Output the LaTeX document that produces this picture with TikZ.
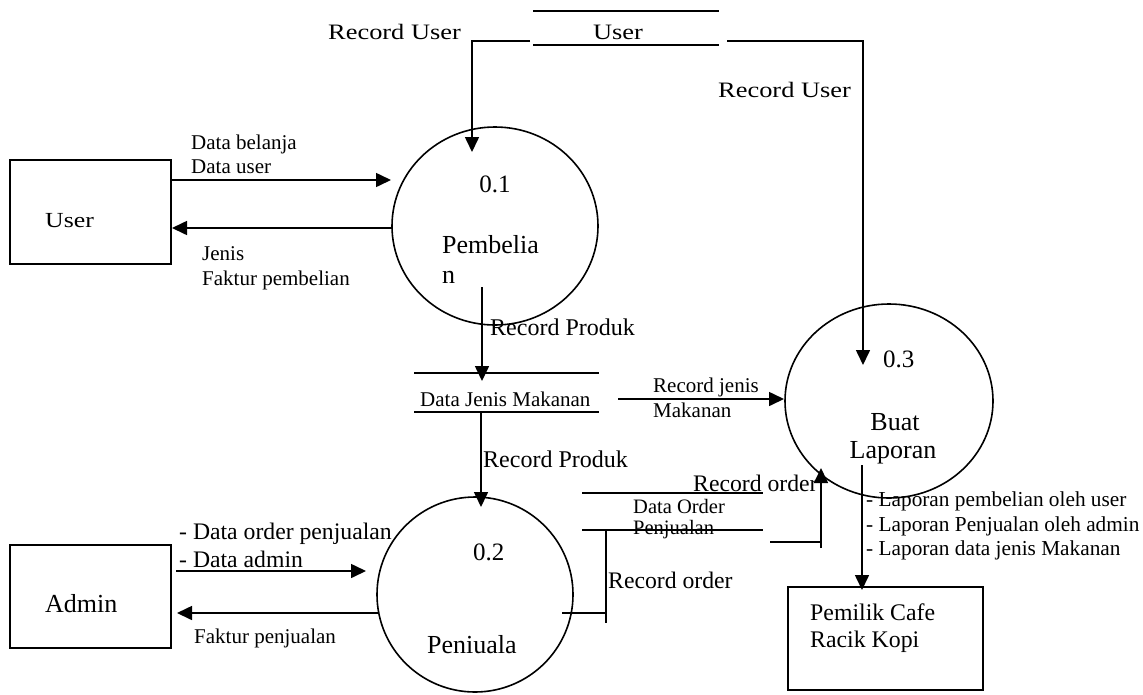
\documentclass[tikz,border=0pt]{standalone}
\usepackage{fontspec}
\setmainfont{Liberation Serif}
\newfontfamily\widefont[FakeStretch=1.2]{Liberation Serif}
\usetikzlibrary{arrows.meta,shapes.geometric}
\newcommand{\fsz}[1]{\fontsize{#1}{#1}\selectfont}
\begin{document}
\begin{tikzpicture}[x=1pt,y=-1pt,
  ln/.style={line width=1.6pt},
  arr/.style={line width=1.6pt,-{Triangle[length=15pt,width=14pt]}},
  lbl/.style={inner sep=0,anchor=base west},
  lblc/.style={inner sep=0,anchor=base},
  proc/.style={draw,ellipse,line width=1.6pt,inner sep=0},
  ent/.style={draw,rectangle,line width=1.6pt,inner sep=0}]
\useasboundingbox (0,0) rectangle (1143,694);

% external entities
\node[ent,minimum width=161pt,minimum height=104pt] (user) at (90.5,212) {};
\node[lbl] (usertxt) at (45,227) {\widefont\fsz{21.5}User};
\node[ent,minimum width=161pt,minimum height=103pt] (admin) at (90.5,596.5) {};
\node[lbl] (admintxt) at (45,612) {\fsz{26}Admin};
\node[ent,minimum width=195pt,minimum height=103pt] (owner) at (885.5,638.5) {};
\node[lbl] (owner1) at (810,620) {\fsz{23.8}Pemilik Cafe};
\node[lbl] (owner2) at (810,647) {\fsz{23.8}Racik Kopi};

% processes
\node[proc,minimum width=206pt,minimum height=198pt] (p1) at (495,226) {};
\node[lblc] (p1num) at (495,192) {\fsz{25}0.1};
\node[lbl] (p1a) at (442,253) {\fsz{26}Pembelia};
\node[lbl] (p1b) at (442,283) {\fsz{26}n};

\node[proc,minimum width=196pt,minimum height=195pt] (p2) at (475,594.5) {};
\node[lbl] (p2num) at (473,560) {\fsz{25}0.2};
\node[lbl] (p2a) at (427,653) {\fsz{26}Peniuala};

\node[proc,minimum width=208pt,minimum height=194pt] (p3) at (889,401) {};
\node[lbl] (p3num) at (883,367) {\fsz{25}0.3};
\node[lblc] (p3a) at (895,430) {\fsz{26}Buat};
\node[lblc] (p3b) at (893,458) {\fsz{26}Laporan};

% data stores
\draw[ln] (533,11) -- (719,11) (533,45) -- (719,45);
\node[lblc] (dsuser) at (618,39) {\widefont\fsz{22}User};
\draw[ln] (414,373) -- (599,373) (414,412) -- (599,412);
\node[lbl] (dsjm) at (420,406) {\fsz{21}Data Jenis Makanan};
\draw[ln] (582,493) -- (763,493) (582,530) -- (763,530);
\node[lbl] (dsop1) at (633,513) {\fsz{20.5}Data Order};
\node[lbl] (dsop2) at (633,534) {\fsz{20.5}Penjualan};

% connector end points
\coordinate (du1) at (530,41);
\coordinate (p1top) at (472,152);
\coordinate (du2) at (727,41);
\coordinate (p3top) at (863,365);
\coordinate (ue1) at (171,180);
\coordinate (p1w1) at (391,180);
\coordinate (p1w2) at (392,228);
\coordinate (ue2) at (172,228);
\coordinate (p1b1) at (482,287);
\coordinate (jmtop) at (482,381);
\coordinate (jme) at (618,399);
\coordinate (p3w) at (784,399);
\coordinate (jmb) at (481,412);
\coordinate (p2top) at (481,507);
\coordinate (p2e) at (562,613);
\coordinate (rob) at (606,613);
\coordinate (opb1) at (606,530);
\coordinate (opb2) at (606,623);
\coordinate (ope) at (770,542);
\coordinate (opc) at (821,542);
\coordinate (opd) at (821,548);
\coordinate (p3sw) at (821,468);
\coordinate (ae1) at (176,571);
\coordinate (p2w1) at (366,571);
\coordinate (p2w2) at (378,613);
\coordinate (ae2) at (177,613);
\coordinate (p3b1) at (862,465);
\coordinate (ownt) at (862,590);

% connectors
\draw[arr] (du1) -| (p1top);
\draw[arr] (du2) -| (p3top);
\draw[arr] (ue1) -- (p1w1);
\draw[arr] (p1w2) -- (ue2);
\draw[arr] (p1b1) -- (jmtop);
\draw[arr] (jme) -- (p3w);
\draw[arr] (jmb) -- (p2top);
\draw[ln] (p2e) -- (rob) (opb1) -- (opb2);
\draw[ln] (ope) -- (opc);
\draw[arr] (opd) -- (p3sw);
\draw[arr] (ae1) -- (p2w1);
\draw[arr] (p2w2) -- (ae2);
\draw[arr] (p3b1) -- (ownt);

% labels
\node[lbl] (lru1) at (328,39) {\widefont\fsz{22}Record User};
\node[lbl] (lru2) at (718,97) {\widefont\fsz{22}Record User};
\node[lbl] (ldb1) at (191,149) {\fsz{21}Data belanja};
\node[lbl] (ldb2) at (191,173) {\fsz{21}Data user};
\node[lbl] (lfp1) at (202,260) {\fsz{21}Jenis};
\node[lbl] (lfp2) at (202,285) {\fsz{21}Faktur pembelian};
\node[lbl] (lrp1) at (490,335) {\fsz{24}Record Produk};
\node[lbl] (lrp2) at (483,467) {\fsz{24}Record Produk};
\node[lbl] (lrj1) at (653,392) {\fsz{21}Record jenis};
\node[lbl] (lrj2) at (653,417) {\fsz{21}Makanan};
\node[lbl] (lro1) at (693,491) {\fsz{23.7}\underline{Record} order};
\node[lbl] (lro2) at (608,588) {\fsz{23.7}Record order};
\node[lbl] (ldo1) at (179,539) {\fsz{23.7}- Data order penjualan};
\node[lbl] (ldo2) at (179,567) {\fsz{23.7}- Data admin};
\node[lbl] (lfj) at (194,643) {\fsz{21}Faktur penjualan};
\node[lbl] (llp1) at (866,506) {\fsz{21.3}- Laporan pembelian oleh user};
\node[lbl] (llp2) at (866,531) {\fsz{21.3}- Laporan Penjualan oleh admin};
\node[lbl] (llp3) at (866,555) {\fsz{21.3}- Laporan data jenis Makanan};
\end{tikzpicture}
\end{document}
